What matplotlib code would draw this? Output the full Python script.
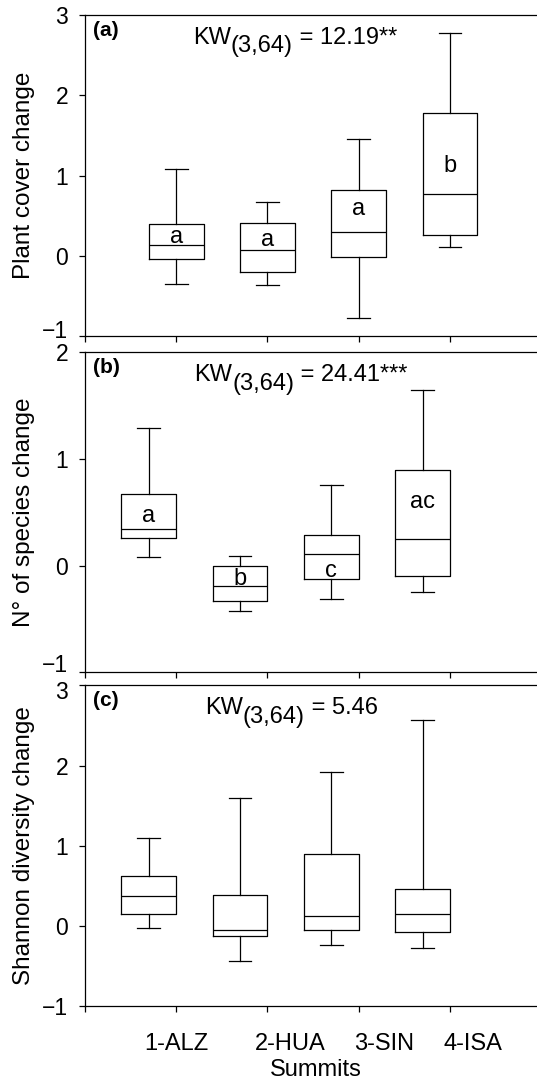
import matplotlib
matplotlib.use('Agg')
import matplotlib.pyplot as plt
from matplotlib.transforms import ScaledTranslation

plt.rcParams['font.family'] = ['Liberation Sans', 'DejaVu Sans']

# Datos (whisker bajo, Q1, mediana, Q3, whisker alto)
summits = ['1-ALZ', '2-HUA', '3-SIN', '4-ISA']
summit_label_pos = [1.0, 2.25, 3.28, 4.25]

cover_low = [-0.35, -0.36, -0.77, 0.107]
cover_q1 = [-0.034, -0.20, -0.017, 0.256]
cover_med = [0.141, 0.068, 0.295, 0.769]
cover_q3 = [0.393, 0.41, 0.825, 1.778]
cover_high = [1.077, 0.671, 1.453, 2.78]
cover_pos = [1, 2, 3, 4]
cover_letters = ['a', 'a', 'a', 'b']
cover_letter_y = [0.24, 0.20, 0.59, 1.12]

species_low = [0.08, -0.423, -0.314, -0.244]
species_q1 = [0.263, -0.327, -0.128, -0.096]
species_med = [0.346, -0.19, 0.106, 0.25]
species_q3 = [0.67, 0.0, 0.285, 0.894]
species_high = [1.288, 0.09, 0.76, 1.647]
species_pos = [0.7, 1.7, 2.7, 3.7]
species_letters = ['a', 'b', 'c', 'ac']
species_letter_y = [0.47, -0.125, -0.05, 0.60]

shannon_low = [-0.026, -0.44, -0.235, -0.273]
shannon_q1 = [0.149, -0.12, -0.047, -0.068]
shannon_med = [0.371, -0.043, 0.132, 0.149]
shannon_q3 = [0.619, 0.393, 0.90, 0.457]
shannon_high = [1.093, 1.597, 1.917, 2.57]
shannon_pos = [0.7, 1.7, 2.7, 3.7]

panels = [
    dict(tag='(a)', ylabel='Plant cover change', kw_val=' = 12.19**', kwx=0.237,
         low=cover_low, q1=cover_q1, med=cover_med, q3=cover_q3, high=cover_high,
         pos=cover_pos, letters=cover_letters, letter_y=cover_letter_y,
         ylim=(-1, 3), box=[0.158, 0.689, 0.85, 0.297], lift_bot=5, lift_top=0),
    dict(tag='(b)', ylabel='N° of species change', kw_val=' = 24.41***', kwx=0.240,
         low=species_low, q1=species_q1, med=species_med, q3=species_q3, high=species_high,
         pos=species_pos, letters=species_letters, letter_y=species_letter_y,
         ylim=(-1, 2), box=[0.158, 0.378, 0.85, 0.296], lift_bot=7, lift_top=0),
    dict(tag='(c)', ylabel='Shannon diversity change', kw_val=' = 5.46', kwx=0.263,
         low=shannon_low, q1=shannon_q1, med=shannon_med, q3=shannon_q3, high=shannon_high,
         pos=shannon_pos, letters=None, letter_y=None,
         ylim=(-1, 3), box=[0.158, 0.069, 0.85, 0.297], lift_bot=0, lift_top=-3),
]

FS = 17

fig = plt.figure(figsize=(5.37, 10.81), dpi=100)

for p in panels:
    ax = fig.add_axes(p['box'])
    stats = []
    for i in range(4):
        stats.append(dict(whislo=p['low'][i], q1=p['q1'][i], med=p['med'][i],
                          q3=p['q3'][i], whishi=p['high'][i], fliers=[]))
    lw = 0.9
    ax.bxp(stats, positions=p['pos'], widths=0.6, capwidths=0.25, showfliers=False,
           boxprops=dict(color='black', linewidth=lw),
           whiskerprops=dict(color='black', linewidth=lw),
           capprops=dict(color='black', linewidth=lw),
           medianprops=dict(color='black', linewidth=lw),
           manage_ticks=False)
    ax.set_xlim(0, 5)
    ax.set_ylim(*p['ylim'])
    ax.set_yticks(range(p['ylim'][0], p['ylim'][1] + 1))
    ax.set_xticks([0, 1, 2, 3, 4])
    ax.set_xticklabels([])
    ax.spines['right'].set_visible(False)
    for s in ['left', 'top', 'bottom']:
        ax.spines[s].set_linewidth(0.9)
    ax.tick_params(axis='y', direction='out', length=4, width=0.9, labelsize=16.5, pad=8)
    ax.tick_params(axis='x', direction='out', length=4, width=0.9)
    # desplazar un poco los rotulos extremos para que no choquen entre paneles
    yticks = ax.yaxis.get_major_ticks()
    for tk, dy in [(yticks[0], p['lift_bot']), (yticks[-1], p['lift_top'])]:
        if dy:
            lab = tk.label1
            lab.set_transform(lab.get_transform() + ScaledTranslation(0, dy / 72, fig.dpi_scale_trans))
    ax.set_ylabel(p['ylabel'], fontsize=17.5, labelpad=5)
    ax.text(0.018, 0.935, p['tag'], transform=ax.transAxes, fontsize=15,
            fontweight='bold', ha='left', va='baseline')

    # KW con subindice del mismo tamaño, desplazado hacia abajo
    t1 = ax.text(p['kwx'], 0.91, 'KW', transform=ax.transAxes, fontsize=FS,
                 ha='left', va='baseline')
    t2 = ax.annotate('(3,64)', xy=(1, 0), xycoords=t1, xytext=(0, -6),
                     textcoords='offset points', fontsize=FS, ha='left', va='bottom')
    ax.annotate(p['kw_val'], xy=(1, 0), xycoords=t2, xytext=(0, 6),
                textcoords='offset points', fontsize=FS, ha='left', va='bottom')

    if p['letters']:
        for x, y, t in zip(p['pos'], p['letter_y'], p['letters']):
            ax.text(x, y, t, fontsize=FS, ha='center', va='center')
    last_ax = ax

for x, t in zip(summit_label_pos, summits):
    last_ax.annotate(t, xy=(x, -1), xycoords='data', xytext=(0, -19),
                     textcoords='offset points', fontsize=FS, ha='center', va='top')
last_ax.annotate('Summits', xy=(2.53, -1), xycoords='data', xytext=(0, -46),
                 textcoords='offset points', fontsize=FS, ha='center', va='center')

fig.savefig('out.png', dpi=100)
